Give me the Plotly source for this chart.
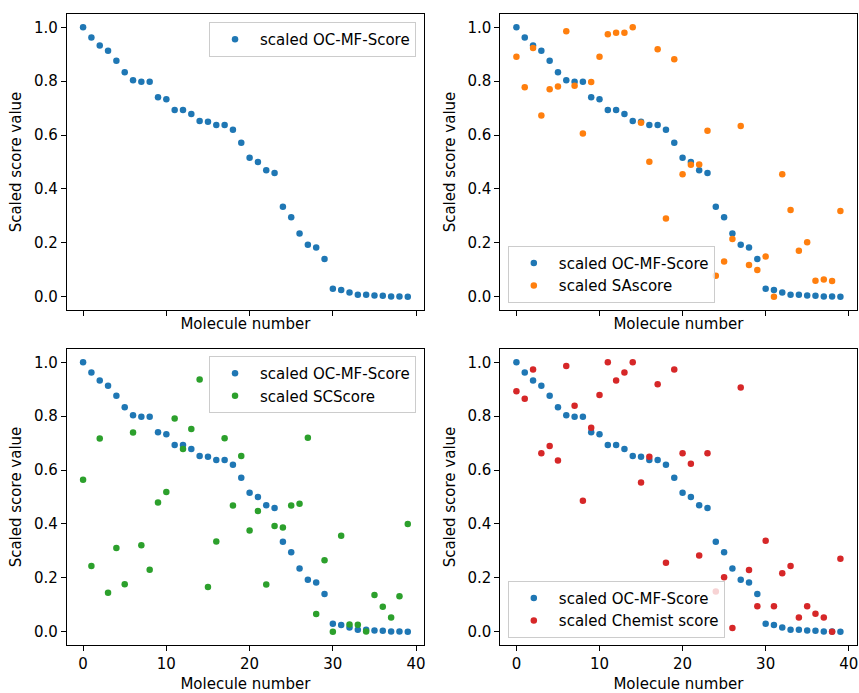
import plotly.graph_objects as go

molecule = list(range(40))

oc_mf = [1.0, 0.962, 0.932, 0.913, 0.876, 0.833, 0.803, 0.798, 0.798, 0.740,
         0.733, 0.693, 0.693, 0.678, 0.652, 0.649, 0.637, 0.637, 0.620, 0.571,
         0.516, 0.500, 0.469, 0.459, 0.334, 0.295, 0.235, 0.193, 0.183, 0.140,
         0.030, 0.025, 0.016, 0.007, 0.007, 0.005, 0.004, 0.001, 0.001, 0.0]

sa_score = [0.891, 0.777, 0.923, 0.673, 0.770, 0.780, 0.985, 0.783, 0.606, 0.797,
            0.891, 0.974, 0.980, 0.980, 1.0, 0.646, 0.501, 0.918, 0.290, 0.881,
            0.455, 0.490, 0.491, 0.616, 0.078, 0.131, 0.214, 0.634, 0.118, 0.099,
            0.149, 0.0, 0.455, 0.322, 0.171, 0.202, 0.059, 0.064, 0.058, 0.318]

sc_score = [0.564, 0.244, 0.717, 0.145, 0.311, 0.176, 0.739, 0.321, 0.230, 0.480,
            0.519, 0.791, 0.678, 0.752, 0.936, 0.166, 0.335, 0.718, 0.468, 0.652,
            0.376, 0.448, 0.175, 0.392, 0.387, 0.468, 0.475, 0.720, 0.066, 0.265,
            0.0, 0.356, 0.027, 0.026, 0.001, 0.136, 0.093, 0.053, 0.132, 0.400]

chemist = [0.892, 0.865, 0.973, 0.662, 0.689, 0.635, 0.986, 0.839, 0.486, 0.757,
           0.879, 1.0, 0.932, 0.962, 1.0, 0.554, 0.649, 0.918, 0.256, 0.973,
           0.662, 0.623, 0.283, 0.662, 0.149, 0.202, 0.014, 0.906, 0.229, 0.095,
           0.338, 0.095, 0.217, 0.244, 0.053, 0.095, 0.067, 0.053, 0.0, 0.271]

x_ticks = [0, 10, 20, 30, 40]
y_ticks = [0.0, 0.2, 0.4, 0.6, 0.8, 1.0]
y_tick_labels = ["0.0", "0.2", "0.4", "0.6", "0.8", "1.0"]

BLUE, ORANGE, GREEN, RED = "#1f77b4", "#ff7f0e", "#2ca02c", "#d62728"
FONT = "DejaVu Sans"
FS = 15
MS = 6.5

W, H = 859, 693

fig = go.Figure()

panels = [
    ("x", "y", "legend", None),
    ("x2", "y2", "legend2", ("scaled SAscore", sa_score, ORANGE)),
    ("x3", "y3", "legend3", ("scaled SCScore", sc_score, GREEN)),
    ("x4", "y4", "legend4", ("scaled Chemist score", chemist, RED)),
]

for xa, ya, lg, extra in panels:
    fig.add_trace(go.Scatter(
        x=molecule, y=oc_mf, mode="markers", name="scaled OC-MF-Score",
        marker=dict(color=BLUE, size=MS), xaxis=xa, yaxis=ya, legend=lg,
        showlegend=True))
    if extra is not None:
        name, vals, col = extra
        fig.add_trace(go.Scatter(
            x=molecule, y=vals, mode="markers", name=name,
            marker=dict(color=col, size=MS), xaxis=xa, yaxis=ya, legend=lg,
            showlegend=True))

xl = [67 / W, 425 / W]
xr = [501.4 / W, 858.6 / W]
yt = [1 - 310.2 / H, 1 - 13.8 / H]
yb = [1 - 645.2 / H, 1 - 348.8 / H]

axis_common = dict(showline=True, linecolor="black", linewidth=0.9, mirror=True,
                   ticks="outside", ticklen=5, tickwidth=0.9, tickcolor="black",
                   showgrid=False, zeroline=False,
                   tickfont=dict(family=FONT, size=FS, color="black"))

def xaxis(domain, anchor, labels):
    return dict(axis_common, domain=domain, anchor=anchor, range=[-1.95, 40.95],
                tickvals=x_ticks, showticklabels=labels,
                title=dict(text="Molecule number", font=dict(family=FONT, size=FS, color="black"),
                           standoff=3 if not labels else 6))

def yaxis(domain, anchor):
    return dict(axis_common, domain=domain, anchor=anchor, range=[-0.05, 1.05],
                tickvals=y_ticks, ticktext=y_tick_labels,
                title=dict(text="Scaled score value", font=dict(family=FONT, size=FS, color="black"),
                           standoff=8))

legend_common = dict(bgcolor="rgba(255,255,255,0.8)", bordercolor="#cccccc", borderwidth=1,
                     font=dict(family=FONT, size=FS, color="black"), traceorder="normal",
                     tracegroupgap=0, itemsizing="trace", itemwidth=40)

fig.update_layout(
    width=W, height=H,
    margin=dict(l=0, r=0, t=0, b=0),
    paper_bgcolor="white", plot_bgcolor="white",
    font=dict(family=FONT, size=FS, color="black"),
    xaxis=xaxis(xl, "y", False),
    yaxis=yaxis(yt, "x"),
    xaxis2=xaxis(xr, "y2", False),
    yaxis2=yaxis(yt, "x2"),
    xaxis3=xaxis(xl, "y3", True),
    yaxis3=yaxis(yb, "x3"),
    xaxis4=xaxis(xr, "y4", True),
    yaxis4=yaxis(yb, "x4"),
    legend=dict(legend_common, x=417 / W, y=1 - 22 / H, xanchor="right", yanchor="top"),
    legend2=dict(legend_common, x=509 / W, y=1 - 302.7 / H, xanchor="left", yanchor="bottom"),
    legend3=dict(legend_common, x=417 / W, y=1 - 356 / H, xanchor="right", yanchor="top"),
    legend4=dict(legend_common, x=509 / W, y=1 - 637.7 / H, xanchor="left", yanchor="bottom"),
)

fig.write_html("out.html")
